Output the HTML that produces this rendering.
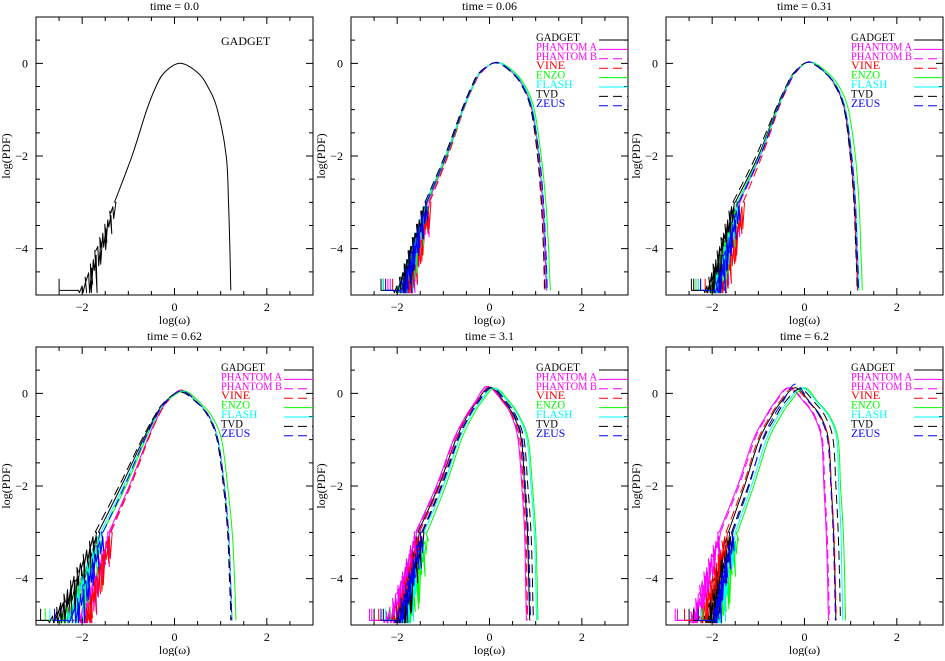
<!DOCTYPE html>
<html><head><meta charset="utf-8"><style>
html,body{margin:0;padding:0;background:#fff;}
svg text{font-family:"Liberation Serif",serif;font-size:12px;}
</style></head><body>
<svg id="fig" width="945" height="656" viewBox="0 0 945 656" xmlns="http://www.w3.org/2000/svg"></svg>
<script>
const levels = [-4.9,-4.5,-4,-3,-2,-1,-0.5,-0.2];
const seriesNames = ["GADGET","PHANTOM A","PHANTOM B","VINE","ENZO","FLASH","TVD","ZEUS"];
const seriesColors = ["#000","#f0f","#f0f","#f00","#0f0","#0ff","#000","#00f"];
const seriesDash = [false,false,true,true,false,false,true,true];
const panelTitles = ["time  =  0.0","time  =  0.06","time  =  0.31","time  =  0.62","time  =  3.1","time  =  6.2"];
const xTicks = [-2,0,2];
const yTicks = [0,-2,-4];
const tailJitter = [0.35,0.1,0.5,0.05,0.6,0.2,0.4,0.15,0.55,0.0,0.3,0.1,0.45,0.25,0.25,0.5,0.15,0.4,0.05,0.3];

const p1 = [
 [[-2.05,-1.85,-1.68,-1.3,-0.92,-0.6,-0.4,-0.22],[0.12,0.0],[0.5,0.72,0.93,1.12,1.17,1.2,1.21,1.22]]
];
const p2 = [
 [[-2.0,-1.85,-1.7,-1.38,-0.95,-0.58,-0.37,-0.2],[0.15,0.02],[0.5,0.73,0.92,1.07,1.15,1.2,1.22,1.23]],
 [[-1.9,-1.75,-1.62,-1.33,-0.92,-0.57,-0.36,-0.2],[0.15,0.02],[0.5,0.73,0.92,1.07,1.15,1.2,1.22,1.23]],
 [[-1.85,-1.7,-1.6,-1.3,-0.9,-0.56,-0.35,-0.18],[0.15,0.02],[0.5,0.73,0.92,1.07,1.15,1.2,1.22,1.23]],
 [[-1.8,-1.7,-1.58,-1.3,-0.9,-0.56,-0.35,-0.18],[0.15,0.02],[0.5,0.73,0.92,1.05,1.13,1.17,1.18,1.19]],
 [[-2.0,-1.8,-1.68,-1.35,-0.93,-0.57,-0.36,-0.2],[0.17,0.02],[0.55,0.78,0.97,1.12,1.22,1.28,1.3,1.32]],
 [[-2.0,-1.85,-1.7,-1.38,-0.95,-0.58,-0.37,-0.2],[0.15,0.02],[0.52,0.75,0.94,1.08,1.17,1.22,1.24,1.25]],
 [[-2.05,-1.87,-1.72,-1.4,-0.97,-0.6,-0.39,-0.22],[0.13,0.01],[0.48,0.71,0.9,1.04,1.12,1.17,1.19,1.2]],
 [[-1.95,-1.8,-1.66,-1.36,-0.94,-0.58,-0.37,-0.2],[0.15,0.02],[0.5,0.73,0.92,1.08,1.17,1.22,1.24,1.25]]
];
const p3 = [
 [[-2.1,-1.95,-1.8,-1.5,-1.0,-0.61,-0.39,-0.22],[0.1,0.03],[0.45,0.68,0.87,1.0,1.08,1.12,1.14,1.15]],
 [[-2.0,-1.85,-1.7,-1.42,-0.96,-0.59,-0.38,-0.21],[0.1,0.03],[0.45,0.68,0.87,1.0,1.08,1.12,1.14,1.15]],
 [[-1.95,-1.8,-1.68,-1.4,-0.95,-0.58,-0.37,-0.2],[0.1,0.03],[0.45,0.68,0.87,1.0,1.08,1.12,1.14,1.15]],
 [[-1.85,-1.72,-1.6,-1.33,-0.92,-0.57,-0.36,-0.19],[0.1,0.03],[0.45,0.68,0.87,1.0,1.08,1.12,1.14,1.15]],
 [[-2.05,-1.9,-1.75,-1.45,-0.98,-0.6,-0.38,-0.21],[0.12,0.03],[0.5,0.75,0.95,1.1,1.18,1.22,1.24,1.25]],
 [[-2.0,-1.88,-1.73,-1.43,-0.97,-0.59,-0.38,-0.21],[0.1,0.03],[0.46,0.7,0.89,1.03,1.11,1.15,1.17,1.18]],
 [[-2.15,-2.0,-1.85,-1.55,-1.05,-0.63,-0.4,-0.23],[0.08,0.02],[0.44,0.67,0.86,0.99,1.07,1.11,1.13,1.14]],
 [[-1.95,-1.83,-1.7,-1.42,-0.96,-0.59,-0.37,-0.2],[0.1,0.03],[0.45,0.69,0.88,1.02,1.1,1.14,1.16,1.17]]
];
const p4 = [
 [[-2.6,-2.4,-2.1,-1.65,-1.15,-0.68,-0.42,-0.22],[0.15,0.04],[0.5,0.75,0.94,1.08,1.17,1.21,1.23,1.24]],
 [[-2.1,-1.95,-1.75,-1.42,-0.98,-0.59,-0.36,-0.18],[0.15,0.07],[0.5,0.75,0.94,1.08,1.17,1.21,1.23,1.24]],
 [[-2.0,-1.9,-1.72,-1.4,-0.97,-0.58,-0.36,-0.18],[0.15,0.07],[0.5,0.75,0.94,1.08,1.17,1.21,1.23,1.24]],
 [[-1.95,-1.85,-1.7,-1.38,-0.95,-0.57,-0.35,-0.17],[0.15,0.07],[0.5,0.75,0.94,1.08,1.17,1.21,1.23,1.24]],
 [[-2.5,-2.25,-2.0,-1.55,-1.05,-0.63,-0.39,-0.2],[0.2,0.05],[0.55,0.81,1.02,1.15,1.25,1.3,1.32,1.33]],
 [[-2.4,-2.2,-2.0,-1.6,-1.1,-0.65,-0.4,-0.2],[0.15,0.05],[0.5,0.75,0.94,1.08,1.17,1.21,1.23,1.24]],
 [[-2.7,-2.45,-2.2,-1.72,-1.2,-0.71,-0.44,-0.23],[0.12,0.03],[0.48,0.73,0.92,1.06,1.15,1.19,1.21,1.22]],
 [[-2.3,-2.1,-1.9,-1.55,-1.08,-0.65,-0.4,-0.2],[0.15,0.05],[0.5,0.75,0.94,1.08,1.17,1.21,1.23,1.24]]
];
const p5 = [
 [[-2.2,-2.0,-1.85,-1.55,-1.1,-0.73,-0.49,-0.29],[0.0,0.13],[0.33,0.53,0.69,0.76,0.82,0.85,0.86,0.87]],
 [[-2.3,-2.1,-1.9,-1.6,-1.15,-0.78,-0.52,-0.32],[-0.05,0.15],[0.3,0.48,0.62,0.7,0.76,0.78,0.79,0.8]],
 [[-2.25,-2.05,-1.88,-1.58,-1.13,-0.76,-0.5,-0.3],[-0.05,0.15],[0.3,0.49,0.63,0.71,0.77,0.79,0.8,0.81]],
 [[-2.1,-1.95,-1.8,-1.52,-1.08,-0.73,-0.48,-0.28],[0.0,0.14],[0.32,0.5,0.66,0.73,0.79,0.81,0.82,0.83]],
 [[-1.85,-1.72,-1.6,-1.35,-0.95,-0.61,-0.37,-0.18],[0.12,0.11],[0.45,0.65,0.84,0.93,1.0,1.03,1.04,1.05]],
 [[-1.95,-1.8,-1.68,-1.42,-1.0,-0.66,-0.42,-0.22],[0.08,0.12],[0.42,0.63,0.81,0.9,0.97,1.0,1.01,1.02]],
 [[-2.0,-1.85,-1.72,-1.45,-1.03,-0.68,-0.44,-0.25],[0.05,0.12],[0.38,0.58,0.75,0.83,0.9,0.93,0.94,0.95]],
 [[-2.05,-1.9,-1.75,-1.47,-1.05,-0.7,-0.45,-0.26],[0.02,0.13],[0.35,0.55,0.71,0.78,0.84,0.87,0.88,0.89]]
];
const p6 = [
 [[-2.2,-2.05,-1.95,-1.65,-1.3,-0.98,-0.72,-0.52],[-0.2,0.12],[0.12,0.35,0.52,0.58,0.63,0.66,0.67,0.68]],
 [[-2.5,-2.35,-2.2,-1.85,-1.45,-1.11,-0.84,-0.65],[-0.35,0.12],[0.0,0.21,0.37,0.42,0.47,0.5,0.51,0.52]],
 [[-2.45,-2.3,-2.15,-1.82,-1.42,-1.08,-0.82,-0.63],[-0.33,0.12],[0.02,0.23,0.39,0.44,0.49,0.52,0.53,0.54]],
 [[-2.3,-2.15,-2.0,-1.7,-1.33,-1.01,-0.75,-0.55],[-0.25,0.12],[0.1,0.33,0.52,0.58,0.64,0.67,0.68,0.69]],
 [[-1.9,-1.8,-1.7,-1.45,-1.1,-0.78,-0.52,-0.32],[0.0,0.12],[0.3,0.55,0.73,0.78,0.84,0.87,0.88,0.89]],
 [[-1.95,-1.85,-1.75,-1.5,-1.15,-0.83,-0.58,-0.38],[-0.05,0.12],[0.28,0.53,0.7,0.74,0.79,0.81,0.82,0.83]],
 [[-2.1,-1.98,-1.85,-1.58,-1.22,-0.89,-0.62,-0.43],[-0.1,0.1],[0.22,0.45,0.62,0.68,0.73,0.76,0.77,0.78]],
 [[-2.0,-1.9,-1.8,-1.55,-1.2,-0.91,-0.67,-0.48],[-0.2,0.2],[0.12,0.33,0.5,0.57,0.62,0.65,0.66,0.67]]
];
const panels = [p1,p2,p3,p4,p5,p6];

const NS="http://www.w3.org/2000/svg";
const svg=document.getElementById('fig');
const W=277,H=278,colX=[36,351,666],rowY=[17,347];
function mk(tag,attrs,parent){const e=document.createElementNS(NS,tag);for(const k in attrs)e.setAttribute(k,attrs[k]);(parent||svg).appendChild(e);return e;}
function smooth(P){
  let d='M'+P[0][0].toFixed(1)+','+P[0][1].toFixed(1);
  for(let i=0;i<P.length-1;i++){
    const p0=P[Math.max(0,i-1)],p1=P[i],p2=P[i+1],p3=P[Math.min(P.length-1,i+2)];
    const c1=[p1[0]+(p2[0]-p0[0])/6,p1[1]+(p2[1]-p0[1])/6];
    const c2=[p2[0]-(p3[0]-p1[0])/6,p2[1]-(p3[1]-p1[1])/6];
    d+=`C${c1[0].toFixed(1)},${c1[1].toFixed(1)} ${c2[0].toFixed(1)},${c2[1].toFixed(1)} ${p2[0].toFixed(1)},${p2[1].toFixed(1)}`;
  }
  return d;
}
function interpLeft(L,y){
  for(let i=0;i<levels.length-1;i++){if(y>=levels[i]&&y<=levels[i+1]){const f=(y-levels[i])/(levels[i+1]-levels[i]);return L[i]+(L[i+1]-L[i])*f;}}
  return L[0];
}

panels.forEach((pdata,pi)=>{
  const x0=colX[pi%3],y0=rowY[Math.floor(pi/3)];
  const sx=v=>x0+(v+3)/6*W, sy=v=>y0+(1-v)/6*H;
  const g=mk('g',{});
  
  
  const t=mk('text',{x:x0+W/2,y:y0-7,'text-anchor':'middle'},g);t.textContent=panelTitles[pi];
  
  const xl=mk('text',{x:x0+W/2,y:y0+H+29,'text-anchor':'middle'},g);xl.textContent='log(ω)';
  
  const yl=mk('text',{x:0,y:0,'text-anchor':'middle',transform:`translate(${x0-26},${y0+H/2}) rotate(-90)`},g);yl.textContent='log(PDF)';
  
  const cp=mk('clipPath',{id:'c'+pi},g);mk('rect',{x:x0,y:y0,width:W,height:H},cp);
  const curves=mk('g',{'clip-path':`url(#c${pi})`},g);
  pdata.forEach((s,si)=>{
    const [L,pk,R]=s;
    const c=pi===0?0:si;
    const main=[];
    for(let i=3;i<L.length;i++)main.push([sx(L[i]),sy(levels[i])]);
    main.push([sx(pk[0]),sy(pk[1])]);
    for(let i=0;i<R.length;i++)main.push([sx(R[i]),sy(levels[levels.length-1-i])]);
    const n=tailJitter.length;
    let td=`M${sx(L[0]-(pi===0?0.45:0.3)).toFixed(1)},${sy(-4.65).toFixed(1)}V${sy(-4.9).toFixed(1)}`;
    for(let i=0;i<=n;i++){
      const yc=-4.9+(1.9)*i/n;
      const xx=interpLeft(L,yc)+((i+si)%3-1)*0.03;
      td+=`L${sx(xx).toFixed(1)},${sy(yc).toFixed(1)}`;
      if(i<n){const yd=Math.max(-4.95,yc-tailJitter[(i+si*3)%n]*(2.0-1.2*i/n));td+=`L${sx(xx+0.02).toFixed(1)},${sy(yd).toFixed(1)}`;}
    }
    td+=`L${main[0][0].toFixed(1)},${main[0][1].toFixed(1)}`;
    const st={fill:'none',stroke:seriesColors[c],'stroke-width':1,'stroke-dasharray':seriesDash[c]?'9,5':'none','stroke-linejoin':'round'};
    const tail=mk('path',Object.assign({d:td},st,{'stroke-dasharray':'none'}),curves);
    
    
    const path=mk('path',Object.assign({d:smooth(main)},st),curves);
    
    
  });
  const fr=mk('rect',{x:x0,y:y0,width:W,height:H,fill:'none',stroke:'#000','stroke-width':1},g);
  
  let td='';
  for(let v=-2.5;v<=2.51;v+=0.5){const X=sx(v),len=(Math.abs(v%2)<1e-6)?7:4;td+=`M${X},${y0+H}v${-len}M${X},${y0}v${len}`;}
  for(let v=-4.5;v<=0.51;v+=0.5){const Y=sy(v),len=(Math.abs(v%2)<1e-6)?7:4;td+=`M${x0},${Y}h${len}M${x0+W},${Y}h${-len}`;}
  const tk=mk('path',{d:td,stroke:'#000','stroke-width':1,fill:'none'},g);
  
  xTicks.forEach(v=>{const e=mk('text',{x:sx(v),y:y0+H+16,'text-anchor':'middle'},g);e.textContent=v<0?'−'+(-v):String(v);
    });
  yTicks.forEach(v=>{const e=mk('text',{x:x0-8,y:sy(v)+4,'text-anchor':'end'},g);e.textContent=v<0?'−'+(-v):String(v);
    });
  if(pi===0){
    const e=mk('text',{x:x0+185,y:y0+28},g);e.textContent='GADGET';
    
  } else {
    seriesNames.forEach((nm,si)=>{
      const yy=y0+24+si*9.4;
      const e=mk('text',{x:x0+185,y:yy,fill:seriesColors[si],textLength:nm.length>7?61:(nm.length*7.3),lengthAdjust:'spacingAndGlyphs'},g);e.textContent=nm;
      
      const l=mk('line',{x1:x0+248,x2:x0+W,y1:yy-1,y2:yy-1,stroke:seriesColors[si],'stroke-width':1,'stroke-dasharray':seriesDash[si]?'9,5':'none'},g);
      
    });
  }
});
</script>
</body></html>
